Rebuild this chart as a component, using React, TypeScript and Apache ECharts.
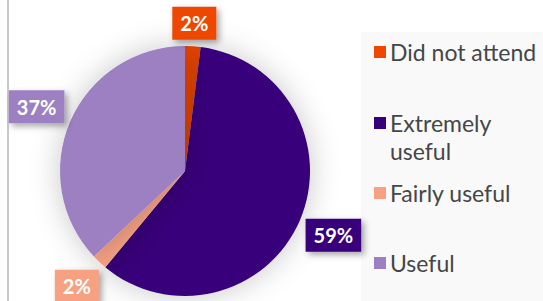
import React, { useEffect, useRef } from 'react';
import * as echarts from 'echarts';

const categories = ['Did not attend', 'Extremely useful', 'Fairly useful', 'Useful'];
const values = [2, 59, 2, 37];
const colors = ['#EE4700', '#37007A', '#F5A182', '#9C80C2'];

const W = 543;
const H = 301;
const CENTER = [185, 171];
const RADIUS = 125;
const FONT = 'Lato, "Noto Sans", sans-serif';
const legendMarkerCenters = [52, 123, 193, 263];

export default function App() {
  const ref = useRef<HTMLDivElement>(null);
  useEffect(() => {
    document.body.style.margin = '0';
    if (!ref.current) return;
    const chart = echarts.init(ref.current, undefined, { renderer: 'svg' });
    const total = values.reduce((a, b) => a + b, 0);
    chart.setOption({
      animation: false,
      backgroundColor: '#ffffff',
      graphic: [
        { type: 'rect', left: 7, top: 0, shape: { width: 2, height: H }, style: { fill: '#c9c9c9' }, z: -10 },
        { type: 'rect', left: 361, top: 32, shape: { width: W - 361, height: H - 32 }, style: { fill: '#f9f9f9' }, z: -10 },
      ],
      legend: categories.map((name, i) => ({
        data: [{ name, icon: 'rect' }],
        orient: 'vertical',
        left: 374,
        top: i === 1 ? legendMarkerCenters[i] - 42 : legendMarkerCenters[i] - 14,
        padding: 0,
        itemWidth: 12,
        itemHeight: 12,
        itemGap: 0,
        selectedMode: false,
        formatter: (n: string) => (n === 'Extremely useful' ? '\nExtremely\nuseful' : n),
        textStyle: { fontFamily: FONT, fontSize: 23, lineHeight: 28, color: '#464646', padding: [0, 0, 0, -1] },
      })),
      series: [
        {
          type: 'pie',
          center: CENTER,
          radius: RADIUS,
          startAngle: 90,
          clockwise: true,
          avoidLabelOverlap: false,
          data: categories.map((name, i) => ({ name, value: values[i], itemStyle: { color: colors[i] } })),
          itemStyle: { shadowBlur: 30, shadowColor: 'rgba(0,0,0,0.22)' },
          label: {
            show: true,
            position: 'outside',
            formatter: (p: any) => Math.round(p.percent) + '%',
            color: '#ffffff',
            fontFamily: FONT,
            fontWeight: 'bold',
            fontSize: 20,
            lineHeight: 21,
            padding: [6, 8, 6, 8],
            backgroundColor: 'inherit',
            shadowBlur: 6,
            shadowColor: 'rgba(0,0,0,0.35)',
            shadowOffsetX: 3,
            shadowOffsetY: 3,
          },
          labelLine: { show: false },
          labelLayout: (params: any) => {
            const i = params.dataIndex;
            const before = values.slice(0, i).reduce((a, b) => a + b, 0);
            const mid = ((before + values[i] / 2) / total) * 2 * Math.PI;
            const dx = Math.sin(mid);
            const dy = -Math.cos(mid);
            const d = RADIUS + 22 + 16 * Math.abs(dx);
            return { x: CENTER[0] + dx * d, y: CENTER[1] + dy * d, align: 'center', verticalAlign: 'middle' };
          },
        },
      ],
    });
    return () => chart.dispose();
  }, []);
  return <div ref={ref} style={{ width: W, height: H }} />;
}
